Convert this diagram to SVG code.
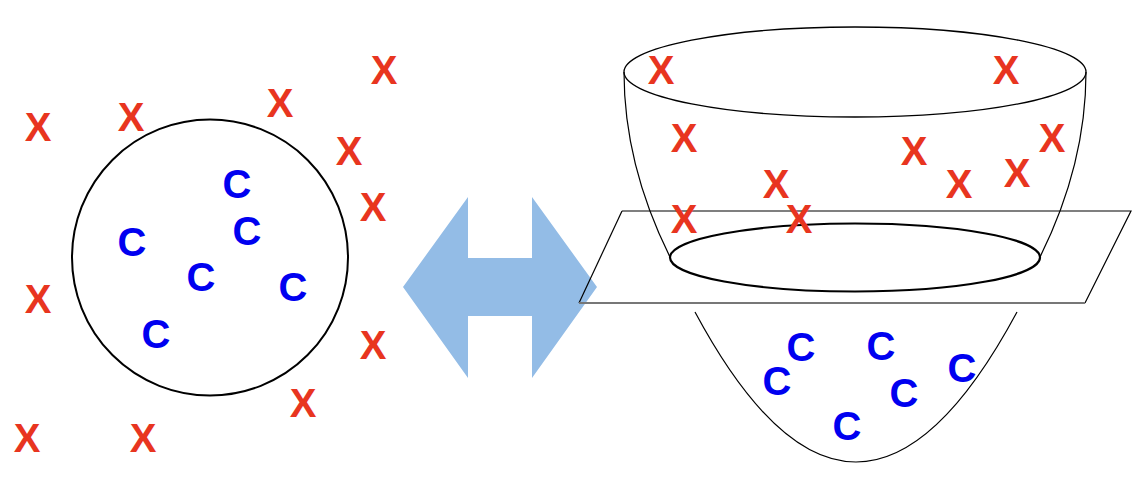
<svg xmlns="http://www.w3.org/2000/svg" width="1134" height="478" viewBox="0 0 1134 478">
<style>
.x{font-family:"Liberation Sans",Arial,sans-serif;font-weight:bold;font-size:40px;fill:#e8351f;text-anchor:middle}
.c{font-family:"Liberation Sans",Arial,sans-serif;font-weight:bold;font-size:40px;fill:#0000f0;text-anchor:middle}
.ln{fill:none;stroke:#000}
</style>
<rect width="1134" height="478" fill="#fff"/>
<g id="circle-set">
<circle cx="210" cy="257.5" r="138" class="ln" stroke-width="2"/>
</g>
<g id="arrow">
<polygon points="403,287 468,197 468,258 532,258 532,197 597,287 532,378 532,316 468,316 468,378" fill="#93bce6"/>
</g>
<g id="bowl">
<ellipse cx="855" cy="72" rx="231" ry="45" class="ln" stroke-width="1.3"/>
<path d="M624,72 Q624,164.5 670,257" class="ln" stroke-width="1.2"/>
<path d="M1086,72 Q1086,164.5 1040,257" class="ln" stroke-width="1.2"/>
<path d="M695,312 Q856,612 1017,312" class="ln" stroke-width="1.2"/>
</g>
<g id="plane">
<path d="M622,211 L1131,211 L1085,303" class="ln" stroke-width="1.2"/>
<path d="M579,303 L622,211" class="ln" stroke-width="1.2"/>
<path d="M579,303 L1085,303" fill="none" stroke="#777" stroke-width="2"/>
<ellipse cx="855" cy="257.5" rx="185" ry="34" class="ln" stroke-width="2.2"/>
</g>
<g id="outliers-left">
<text class="x" x="38" y="141">X</text>
<text class="x" x="131" y="131">X</text>
<text class="x" x="280" y="117">X</text>
<text class="x" x="384" y="84">X</text>
<text class="x" x="349" y="165">X</text>
<text class="x" x="373" y="221">X</text>
<text class="x" x="38" y="313">X</text>
<text class="x" x="373" y="359">X</text>
<text class="x" x="303" y="417">X</text>
<text class="x" x="27" y="452">X</text>
<text class="x" x="143" y="452">X</text>
</g>
<g id="inliers-left">
<text class="c" x="237" y="198">C</text>
<text class="c" x="247" y="245">C</text>
<text class="c" x="132" y="256">C</text>
<text class="c" x="201" y="291">C</text>
<text class="c" x="293" y="301">C</text>
<text class="c" x="156" y="348">C</text>
</g>
<g id="outliers-right">
<text class="x" x="661" y="84">X</text>
<text class="x" x="1006" y="84">X</text>
<text class="x" x="684" y="152">X</text>
<text class="x" x="914" y="165">X</text>
<text class="x" x="1052" y="152">X</text>
<text class="x" x="1017" y="187">X</text>
<text class="x" x="959" y="198">X</text>
<text class="x" x="776" y="198">X</text>
<text class="x" x="684" y="233">X</text>
<text class="x" x="799" y="233">X</text>
</g>
<g id="inliers-right">
<text class="c" x="801" y="361">C</text>
<text class="c" x="777" y="395">C</text>
<text class="c" x="881" y="360">C</text>
<text class="c" x="962" y="382">C</text>
<text class="c" x="904" y="407">C</text>
<text class="c" x="847" y="440">C</text>
</g>
</svg>
